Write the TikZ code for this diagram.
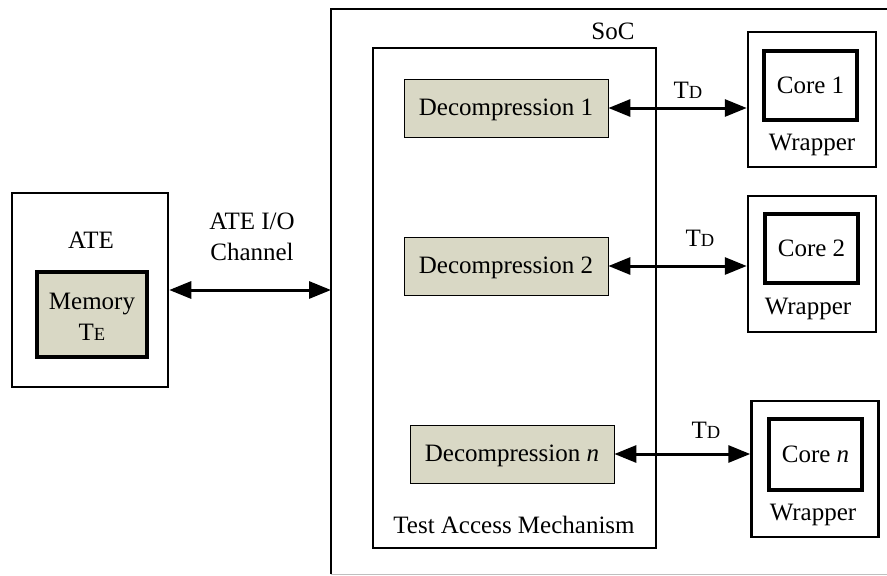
\documentclass[tikz,border=0pt]{standalone}
\usepackage{fontspec}
\setmainfont{Liberation Serif}
\usetikzlibrary{arrows.meta}
\definecolor{decomp}{RGB}{217,216,197}
\newcommand{\subcap}[1]{{\fontsize{18.5}{18.5}\selectfont #1}}
\begin{document}
\begin{tikzpicture}[x=1pt,y=-1pt,
 txt/.style={font=\fontsize{25}{31}\selectfont, inner sep=0pt, align=center},
 outerbox/.style={draw, line width=2.5pt, inner sep=0pt},
 innerbox/.style={draw, line width=4pt, inner sep=0pt},
 decbox/.style={draw, line width=0.8pt, fill=decomp, minimum width=204pt, minimum height=58pt, inner sep=0pt, font=\fontsize{25}{31}\selectfont, text height=17pt, text depth=2pt},
 link/.style={line width=3pt, {Triangle[length=22pt,width=17pt]}-{Triangle[length=22pt,width=17pt]}},
]
\useasboundingbox (0,0) rectangle (887,576);
% SoC
\node[inner sep=0pt, minimum width=570pt, minimum height=565pt, anchor=north west] (soc) at (331,9) {};
\draw[line width=2.5pt] (soc.south west) -- (soc.north west) -- (soc.north east);
\draw[line width=1pt, black!25] (soc.south west) -- (soc.south east);
\node[txt] (soclbl) at (613,31) {SoC};
% ATE
\node[outerbox, minimum width=156pt, minimum height=194pt] (ate) at (90,290) {};
\node[txt] (atelbl) at (91,240) {ATE};
\node[innerbox, fill=decomp, minimum width=110pt, minimum height=85pt] (mem) at (92,314.5) {};
\node[txt] (memlbl) at (92,317) {Memory\\T\subcap{E}};
\node[txt] (chan) at (252,237) {ATE I/O\\Channel};
\draw[link] (ate.east) -- (ate.east -| soc.west);
% TAM
\node[outerbox, minimum width=283pt, minimum height=500pt] (tam) at (514.5,298) {};
\node[txt] (tamlbl) at (514,525) {Test Access Mechanism};
\node[decbox] (d1) at (506,108) {Decompression 1};
\node[decbox] (d2) at (506,266) {Decompression 2};
\node[decbox] (dn) at (512,454) {Decompression \textit{n}};
% Wrappers
\node[outerbox, minimum width=128pt, minimum height=135pt] (w1) at (812,99.5) {};
\node[outerbox, minimum width=128pt, minimum height=136pt] (w2) at (812,264) {};
\node[outerbox, minimum width=127pt, minimum height=136pt] (wn) at (815,469) {};
\node[innerbox, minimum width=93pt, minimum height=69pt, txt] (c1) at (810.5,85.5) {Core 1};
\node[innerbox, minimum width=93pt, minimum height=69pt, txt] (c2) at (811.5,248.5) {Core 2};
\node[innerbox, minimum width=93pt, minimum height=71pt, txt] (cn) at (815.5,454.5) {Core \textit{n}};
\node[txt] (w1lbl) at (812,145) {Wrapper};
\node[txt] (w2lbl) at (808,309) {Wrapper};
\node[txt] (wnlbl) at (813,515) {Wrapper};
% Links
\draw[link] (d1.east) -- (d1.east -| w1.west);
\draw[link] (d2.east) -- (d2.east -| w2.west);
\draw[link] (dn.east) -- (dn.east -| wn.west);
\node[txt] (t1) at (688,90) {T\subcap{D}};
\node[txt] (t2) at (700,238) {T\subcap{D}};
\node[txt] (tn) at (706,430) {T\subcap{D}};
\end{tikzpicture}
\end{document}
